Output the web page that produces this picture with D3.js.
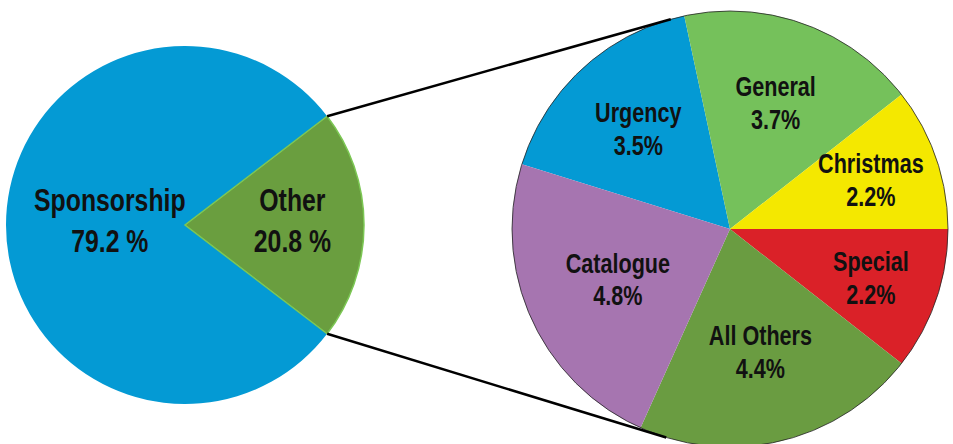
<!DOCTYPE html>
<html>
<head>
<meta charset="utf-8">
<script src="https://cdn.jsdelivr.net/npm/d3@7"></script>
<style>
  body { margin: 0; background: #fff; }
  text { font-family: "Liberation Sans", Arial, sans-serif; font-weight: bold; fill: #111; }
</style>
</head>
<body>
<div id="chart-area"></div>
<script>
// Data
const mainNames = ["Sponsorship", "Other"]
const mainValues = [79.2, 20.8]
const mainLabels = ["79.2 %", "20.8 %"]

const otherNames = ["Urgency", "General", "Christmas", "Special", "All Others", "Catalogue"]
const otherValues = [3.5, 3.7, 2.2, 2.2, 4.4, 4.8]
const otherLabels = ["3.5%", "3.7%", "2.2%", "2.2%", "4.4%", "4.8%"]

// Config
const width = 953, height = 444
const deg = Math.PI / 180
const squeeze = 0.8   // condensed look

const mainColors = {"Sponsorship": "#049ad4", "Other": "#6a9e3f"}
const otherColors = {
  "Urgency": "#049ad4", "General": "#75c15b", "Christmas": "#f4e800",
  "Special": "#da2128", "All Others": "#6a9c41", "Catalogue": "#a675b0"
}

const left = {cx: 185, cy: 225, r: 179}
const right = {cx: 730, cy: 229, r: 218}

const svg = d3.select("#chart-area")
  .append("svg")
    .attr("width", width)
    .attr("height", height)

// Left pie: "Other" slice centred on the right-hand side
const otherShare = mainValues[1] / d3.sum(mainValues)
const otherStart = 90 * deg - otherShare * Math.PI
const mainArcs = d3.pie().sort(null).value(d => d.value)
  .startAngle(otherStart - (1 - otherShare) * 2 * Math.PI)
  .endAngle(otherStart + otherShare * 2 * Math.PI)(
    mainNames.map((n, i) => ({name: n, value: mainValues[i], label: mainLabels[i]})))

const leftArc = d3.arc().innerRadius(0).outerRadius(left.r)
const gl = svg.append("g").attr("transform", `translate(${left.cx},${left.cy})`)

gl.selectAll("path").data(mainArcs).enter().append("path")
  .attr("d", leftArc)
  .attr("fill", d => mainColors[d.data.name])
  .attr("stroke", d => d.data.name === "Other" ? "#7cc754" : "none")
  .attr("stroke-width", 1.5)

// Right pie: breakdown of "Other"
const rightStart = -72.7 * deg
const otherArcs = d3.pie().sort(null).value(d => d.value)
  .startAngle(rightStart).endAngle(rightStart + 2 * Math.PI)(
    otherNames.map((n, i) => ({name: n, value: otherValues[i], label: otherLabels[i]})))

const rightArc = d3.arc().innerRadius(0).outerRadius(right.r)
const gr = svg.append("g").attr("transform", `translate(${right.cx},${right.cy})`)

gr.selectAll("path").data(otherArcs).enter().append("path")
  .attr("d", rightArc)
  .attr("fill", d => otherColors[d.data.name])

gr.append("circle")
  .attr("r", right.r)
  .attr("fill", "none")
  .attr("stroke", "#222")
  .attr("stroke-width", 0.8)

// Connector lines: from edges of "Other" slice, tangent to right pie
const otherArc = mainArcs[1]
function edgePoint(a) {
  return [left.cx + left.r * Math.sin(a), left.cy - left.r * Math.cos(a)]
}
function tangentPoint(p, side) {
  const dx = p[0] - right.cx, dy = p[1] - right.cy
  const d = Math.hypot(dx, dy)
  const a = Math.atan2(dy, dx) + side * Math.acos(right.r / d)
  return [right.cx + right.r * Math.cos(a), right.cy + right.r * Math.sin(a)]
}
const pTop = edgePoint(otherArc.startAngle)
const pBot = edgePoint(otherArc.endAngle)
const connectors = [[pTop, tangentPoint(pTop, 1)], [pBot, tangentPoint(pBot, -1)]]

svg.selectAll("line.connector").data(connectors).enter().append("line")
  .attr("class", "connector")
  .attr("x1", d => d[0][0]).attr("y1", d => d[0][1])
  .attr("x2", d => d[1][0]).attr("y2", d => d[1][1])
  .attr("stroke", "#000")
  .attr("stroke-width", 2.5)

// Labels: left pie
const leftLabelPos = d => {
  const lr = d.data.name === "Other" ? 0.6 * left.r : 0.42 * left.r
  return d3.arc().innerRadius(lr).outerRadius(lr).centroid(d)
}
const ll = gl.selectAll("g.label").data(mainArcs).enter().append("g")
  .attr("class", "label")
  .attr("transform", d => `translate(${leftLabelPos(d)}) scale(${squeeze},1)`)
ll.append("text").attr("text-anchor", "middle").attr("y", -14)
  .style("font-size", "31px").text(d => d.data.name)
ll.append("text").attr("text-anchor", "middle").attr("y", 27)
  .style("font-size", "31px").text(d => d.data.label)

// Labels: right pie -- smaller slices get their label further out
const rightLabelPos = d => {
  const lr = 171 - 10 * d.data.value
  return d3.arc().innerRadius(lr).outerRadius(lr).centroid(d)
}
const rl = gr.selectAll("g.label").data(otherArcs).enter().append("g")
  .attr("class", "label")
  .attr("transform", d => `translate(${rightLabelPos(d)}) scale(${squeeze},1)`)
rl.append("text").attr("text-anchor", "middle").attr("y", -7)
  .style("font-size", "27px").text(d => d.data.name)
rl.append("text").attr("text-anchor", "middle").attr("y", 26)
  .style("font-size", "27px").text(d => d.data.label)
</script>
</body>
</html>
